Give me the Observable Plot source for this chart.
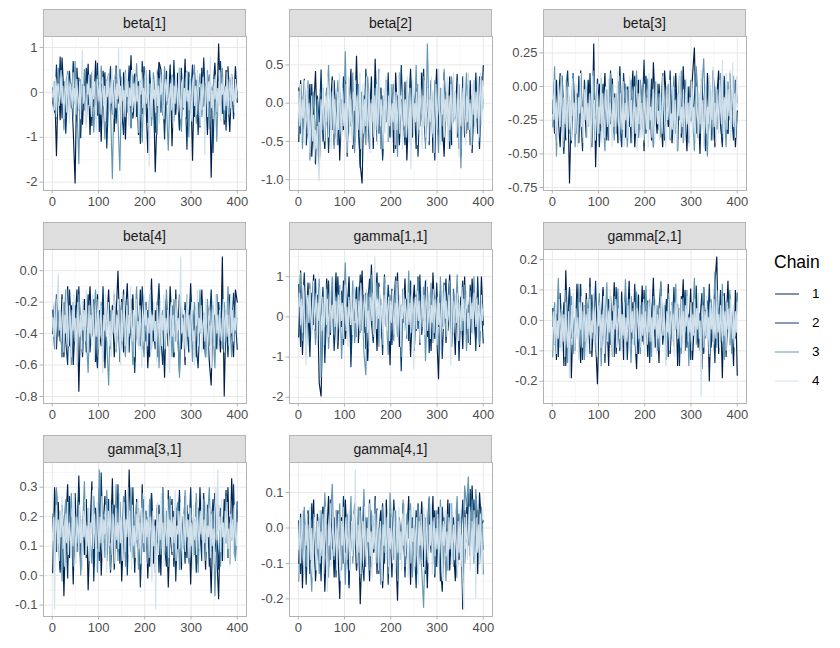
<!DOCTYPE html>
<html>
<head>
<meta charset="utf-8">
<script src="https://cdn.jsdelivr.net/npm/d3@7"></script>
<script src="https://cdn.jsdelivr.net/npm/@observablehq/plot@0.6"></script>
<style>
  body { margin: 0; background: #fff; font-family: "Liberation Sans", Arial, sans-serif; }
  #chart { position: relative; width: 840px; height: 648px; overflow: hidden; }
  .panel { position: absolute; }
  .strip { position: absolute; box-sizing: border-box; background: #dedede; border: 1px solid #b5b5b5;
           font-family: "Liberation Sans", Arial, sans-serif; font-weight: 400;
           font-size: 14px; color: #1a1a1a; text-align: center; line-height: 26px; }
  .legend { position: absolute; left: 774px; top: 252px; color: #000; font-weight: 400; }
  .legend .title { font-size: 17.5px; margin-bottom: 6px; }
  .legend .row { display: flex; align-items: center; height: 29px; font-size: 13.5px; }
  .legend svg { margin-right: 12px; }
</style>
</head>
<body>
<div id="chart"></div>
<script>
// ---------- categories ----------
const parameterNames = ["beta[1]", "beta[2]", "beta[3]", "beta[4]", "gamma[1,1]", "gamma[2,1]", "gamma[3,1]", "gamma[4,1]"];
const chainNames = ["1", "2", "3", "4"];
const chainColors = ["#011f4b", "#03396c", "#6497b1", "#d1e1ec"];

// ---------- tick labels ----------
const xTicks = [0, 100, 200, 300, 400];
const xMinorTicks = [50, 150, 250, 350];
const beta1Ticks = [-2, -1, 0, 1];
const beta2Ticks = [-1.0, -0.5, 0.0, 0.5];
const beta3Ticks = [-0.75, -0.50, -0.25, 0.00, 0.25];
const beta4Ticks = [-0.8, -0.6, -0.4, -0.2, 0.0];
const gamma11Ticks = [-2, -1, 0, 1];
const gamma21Ticks = [-0.2, -0.1, 0.0, 0.1, 0.2];
const gamma31Ticks = [-0.1, 0.0, 0.1, 0.2, 0.3];
const gamma41Ticks = [-0.2, -0.1, 0.0, 0.1];

// ---------- series values (thinned draws) ----------
const beta1_c1 = [-0.25,0.21,-1.42,0.35,-0.62,0.78,-0.10,-0.55,0.42,-0.31,0.12,-0.84,-2.03,0.55,-0.40,0.05,-0.72,0.38,-0.18,0.64,-0.95,0.10,-0.33,0.71,-0.52,0.22,-1.10,0.48,-0.08,-0.66,0.30,-0.41,0.15,-0.88,0.60,-0.25,0.02,-0.70,0.45,-1.05,0.18,-0.36,0.83,-0.58,-0.12,0.40,-0.95,0.26,-0.48,0.58,-0.20,-1.35,0.33,-0.62,0.11,-1.78,-0.44,0.68,0.52,-0.15,-0.70,0.36,-0.28,0.62,-1.20,0.08,-0.50,0.44,-0.85,0.21,-0.38,0.75,-0.60,-0.05,0.30,-1.52,0.48,-0.25,0.12,-0.78,0.55,-0.32,0.20,-0.95,0.40,-1.90,0.05,0.66,-0.47,1.09,-0.30,0.18,-0.72,0.50,-0.15,-0.88,0.32,-0.40,0.58,-0.22];
const beta1_c2 = [0.10,-0.45,0.62,-0.20,0.80,-0.58,0.25,-0.92,0.05,0.48,-0.35,0.70,-0.15,-0.65,0.33,-1.02,0.18,-0.40,0.55,-0.28,0.40,-0.75,0.12,-0.30,0.66,-0.88,0.20,-0.12,0.45,-1.25,-0.05,0.58,-0.50,0.28,-0.70,0.15,0.52,-0.38,-0.95,0.36,-0.22,0.60,-0.80,0.08,0.42,-0.55,0.25,-1.15,0.70,-0.10,0.34,-0.68,0.50,-0.30,0.02,-0.90,0.38,0.60,-0.45,0.15,-1.05,0.48,-0.18,0.30,-0.62,0.72,-0.35,0.10,-0.82,0.55,-0.25,0.20,-1.28,0.46,-0.08,0.62,-0.55,0.28,-0.95,0.12,-0.40,0.78,-0.20,-0.65,0.35,0.05,-1.35,0.50,-0.30,0.22,0.70,-0.48,0.15,-0.85,0.58,-0.12,0.40,-0.60,0.28,-0.05];
const beta1_c3 = [-0.30,0.25,-0.60,0.55,-0.15,0.35,-0.85,0.10,0.48,-0.40,0.20,-0.55,0.70,-0.25,-1.60,0.30,-0.10,0.52,-0.70,0.15,-0.35,0.45,-0.90,0.05,0.38,-0.48,0.60,-0.20,-1.05,0.25,0.42,-0.30,-1.93,0.18,0.55,-0.62,-1.75,0.35,-0.15,0.50,-0.45,0.12,-0.80,0.40,-0.22,0.65,-0.58,0.08,-1.12,0.30,0.50,-0.35,0.20,-0.75,0.45,-0.05,-0.95,0.32,0.15,-0.52,0.58,-0.28,-1.30,0.10,0.40,-0.65,0.25,-0.40,0.55,-0.88,0.18,-0.15,0.48,-1.00,0.30,-0.35,0.62,-0.70,0.05,0.42,-0.55,0.20,-0.25,0.50,-0.82,0.12,-0.40,0.36,-1.10,0.25,-0.18,0.55,-0.62,0.08,0.30,-0.45,0.40,-0.28,0.15,-0.10];
const beta1_c4 = [-0.10,0.25,-0.40,0.35,-0.55,0.10,0.20,-0.30,-0.05,0.50,-0.25,0.15,-0.60,0.05,0.30,-0.45,0.40,-0.15,-0.70,0.20,0.00,-0.35,0.45,-0.20,0.10,-0.50,0.30,-0.10,-0.40,0.25,-0.60,0.35,0.95,-0.25,0.15,-0.45,-0.80,0.20,-0.05,0.40,-0.30,0.10,-0.55,0.50,-0.15,0.25,-0.35,-0.85,0.30,0.05,-0.20,0.45,-0.50,0.00,0.35,-0.30,0.15,-0.65,0.25,-0.10,0.40,-0.45,0.10,-0.25,0.55,-0.60,-0.05,0.30,-0.35,0.20,-0.15,1.00,-0.40,0.15,-0.70,0.35,-0.20,0.05,-0.55,0.45,-0.10,0.25,-0.75,0.10,-0.30,0.50,-0.45,0.20,0.00,-0.60,0.35,-0.20,0.15,-0.90,0.30,-0.05,0.45,-0.35,0.10,-0.50,0.55,-0.25,-0.10,0.40,-1.65,-0.40,0.20,-0.55,0.30,-0.15,0.05,-0.45,0.50,-0.30,0.15,-0.70,0.25,-0.05,0.40,-0.35,-0.60,0.10,0.30,-0.20,0.45,-0.50,-0.10,0.20,-0.40,0.35,-0.80,0.15,-0.25,0.40,0.00,-0.45,0.55,-0.15,-0.60,0.20,0.30,-0.35,0.10,-0.55,0.45,-0.20,0.05,-0.40,0.35,-0.10,-0.65,0.25,0.40,-0.30,0.15,-0.50,0.50,0.00,-0.25,-0.75,0.20,-0.40,0.35,-0.10,-1.40,0.10,0.45,-0.55,0.25,-0.20,0.80,-0.35,0.05,-0.60,0.30,-0.15,0.40,-0.45,0.10,-0.25,0.50,-0.65,0.20,-0.05,0.35,-0.40,0.15,-0.30,0.45,-0.50,0.05,0.25,-0.35,0.40,-0.20,0.10,-0.45,0.30,-0.15,0.20];

const beta2_c1 = [-0.50,0.30,-0.35,0.05,-0.55,-0.20,0.25,-0.70,-0.10,0.42,-0.45,-0.85,0.10,-0.30,-0.60,0.15,-0.40,-0.05,0.35,-0.55,-0.15,0.20,-0.75,0.00,-0.35,0.30,-0.50,-0.10,0.45,-0.60,-0.25,0.62,-0.30,-0.80,-1.05,0.10,-0.45,0.05,-0.20,0.35,-0.60,0.58,-0.15,-0.40,0.20,-0.70,-0.05,0.30,-0.50,-0.25,0.15,-0.65,0.40,-0.20,-0.55,0.05,-0.35,0.28,-0.75,-0.10,0.45,-0.40,0.00,-0.60,0.25,-0.30,0.40,-0.15,-0.50,0.20,-0.35,0.30,-0.65,-0.05,0.45,-0.45,0.10,-0.25,-0.70,0.15,-0.30,0.35,-0.55,0.05,-0.20,0.38,-0.60,-0.10,0.25,-0.45,0.10,-0.35,0.30,-0.65,-0.05,0.20,-0.40,0.35,-0.15,0.49];
const beta2_c2 = [0.20,-0.40,-0.10,0.32,-0.55,0.00,-0.30,0.25,-0.45,-0.80,0.10,-0.25,0.44,-0.50,-0.15,0.20,-0.65,0.05,-0.35,0.30,-0.20,-0.55,0.15,-0.40,0.35,-0.10,-0.70,0.20,-0.30,0.05,-0.50,0.25,-0.20,-0.85,0.15,-0.40,0.45,-0.15,-0.60,0.10,-0.30,0.30,-0.50,-0.05,0.20,-0.75,0.05,-0.25,0.40,-0.45,-0.10,0.25,-0.60,0.10,-0.35,0.50,-0.20,-0.55,0.15,-0.30,0.35,-0.45,-0.05,0.20,-0.70,0.10,-0.25,0.45,-0.40,0.00,-0.55,0.25,-0.15,-0.75,0.30,-0.35,0.10,-0.50,0.40,-0.20,-0.05,-0.60,0.30,-0.25,0.15,-0.45,0.05,-0.70,0.35,-0.15,-0.40,0.25,-0.55,0.10,-0.30,0.40,-0.20,-0.60,0.15,0.00];
const beta2_c3 = [-0.30,0.25,-0.60,0.10,-0.20,0.30,-0.75,-0.35,0.15,-0.50,0.05,-0.80,-0.25,0.20,-0.45,0.00,0.50,-0.35,0.15,-0.60,-0.10,0.30,-0.40,0.05,-0.25,0.68,-0.50,0.10,-0.30,0.40,-0.65,-0.05,0.25,-0.45,0.15,-0.20,-0.55,0.35,-0.10,0.05,-0.40,0.20,-0.30,0.45,-0.60,0.10,-0.15,0.30,-0.50,-0.05,0.25,-0.35,0.05,-0.70,0.40,-0.20,0.15,-0.45,0.30,-0.10,-0.55,0.20,-0.25,0.50,-0.40,0.05,-0.15,0.35,-0.60,0.78,-0.20,0.10,-0.45,0.30,-0.05,-0.65,0.20,-0.30,0.45,-0.15,0.05,-0.50,0.35,-0.25,0.10,-0.40,0.25,-0.85,0.15,-0.20,0.40,-0.35,0.05,-0.55,0.30,-0.10,0.20,-0.45,0.35,-0.05];
const beta2_c4 = [0.15,-0.30,0.25,-0.45,0.05,-0.20,0.30,-0.55,-0.10,0.20,-0.40,0.00,-0.65,-0.25,0.10,-0.50,-0.15,-0.75,-0.35,-0.60,-0.30,-0.80,-1.02,-0.45,0.05,-0.35,0.25,-0.20,-0.50,0.10,-0.25,0.35,-0.45,-0.05,0.20,-0.60,-0.15,0.30,-0.40,0.05,-0.20,-0.55,0.15,-0.35,0.40,-0.10,-0.50,0.20,-0.30,0.00,-0.45,0.25,-0.65,-0.15,0.35,-0.40,0.05,-0.25,-0.55,0.15,-0.10,0.30,-0.45,0.10,-0.35,-0.05,0.40,-0.60,-0.20,0.25,-0.40,0.05,-0.30,0.35,-0.50,-0.15,0.20,-0.65,0.00,-0.25,0.30,-0.45,0.10,-0.35,0.25,-0.55,-0.10,0.40,-0.30,0.05,-0.20,-0.60,0.20,-0.40,0.35,-0.15,-0.50,0.10,-0.30,0.25,-0.45,0.00,-0.25,0.30,-0.55,0.15,-0.35,-0.05,0.40,-0.40,0.10,-0.20,-0.60,0.25,-0.30,0.05,-0.45,0.35,-0.15,-0.50,0.20,-0.87,-0.10,0.30,-0.40,0.00,-0.25,0.15,-0.55,0.25,-0.35,0.40,-0.20,-0.60,0.10,-0.30,0.30,-0.45,-0.05,0.20,-0.50,0.05,-0.25,0.35,-0.40,0.15,-0.65,-0.10,0.25,-0.35,0.00,0.45,-0.30,-0.55,0.20,-0.15,0.30,-0.45,0.05,-0.25,0.35,-0.60,0.10,-0.35,0.25,-0.05,-0.50,0.40,-0.20,0.15,-0.45,-0.10,0.30,-0.70,0.05,-0.30,0.20,-0.40,0.35,-0.15,-0.55,0.10,-0.25,0.40,-0.35,0.00,-0.60,0.25,-0.15,0.30,-0.40,0.15,-0.20,0.35,-0.50,0.05,0.40,-0.30,0.30,-0.05];

const beta3_c1 = [-0.10,-0.35,0.05,-0.25,-0.45,0.08,-0.20,-0.40,0.00,-0.72,-0.15,0.10,-0.30,-0.05,-0.42,0.12,-0.25,-0.10,-0.38,0.05,-0.20,-0.45,0.32,-0.60,-0.12,0.02,-0.33,-0.18,0.10,-0.40,-0.08,-0.28,0.06,-0.35,-0.15,-0.42,0.15,-0.22,-0.05,-0.38,0.00,-0.30,-0.12,0.12,-0.45,-0.20,0.05,-0.32,-0.10,-0.48,0.08,-0.25,-0.02,-0.40,0.18,-0.15,-0.35,0.02,-0.22,-0.45,0.12,-0.10,-0.30,0.05,-0.42,-0.18,0.10,-0.28,-0.05,-0.38,0.15,-0.20,-0.48,0.00,-0.25,0.08,0.29,-0.35,-0.12,-0.50,0.05,-0.22,-0.40,0.10,-0.15,-0.30,0.02,-0.45,-0.08,0.12,-0.28,-0.42,0.05,-0.18,-0.35,0.10,-0.25,-0.05,-0.45,-0.18];
const beta3_c2 = [-0.20,0.05,-0.40,-0.10,0.10,-0.30,-0.50,-0.05,0.12,-0.25,-0.42,0.00,-0.15,-0.35,0.08,-0.22,-0.48,0.05,-0.12,-0.30,0.10,-0.38,-0.05,-0.25,0.06,-0.45,-0.15,0.02,-0.32,-0.08,-0.40,0.12,-0.20,-0.05,-0.35,0.04,-0.28,-0.45,0.10,-0.15,-0.30,0.00,-0.42,-0.10,0.08,-0.25,-0.38,0.05,-0.18,0.20,-0.35,-0.08,-0.28,0.06,-0.45,-0.12,0.02,-0.32,-0.20,0.10,-0.40,-0.05,-0.25,0.12,-0.38,-0.15,-0.02,-0.48,0.08,-0.22,-0.35,0.05,-0.12,-0.42,0.00,-0.28,-0.08,0.10,-0.38,-0.18,0.06,-0.30,-0.48,0.02,-0.20,-0.40,0.12,-0.10,-0.32,0.04,-0.25,-0.45,0.08,-0.15,-0.35,0.00,-0.22,-0.40,0.05,-0.12];
const beta3_c3 = [-0.30,0.15,-0.52,-0.05,-0.25,0.08,-0.40,-0.12,0.02,-0.35,-0.18,0.10,-0.45,-0.08,-0.28,0.05,-0.38,-0.15,0.00,-0.30,-0.10,-0.42,0.12,-0.22,-0.05,-0.35,0.06,-0.20,-0.48,-0.02,-0.28,0.10,-0.15,-0.40,-0.05,-0.25,0.08,-0.35,-0.12,0.02,-0.45,-0.18,0.05,-0.30,-0.08,0.12,-0.38,-0.20,-0.02,-0.42,-0.10,0.06,-0.32,-0.15,-0.45,0.04,-0.22,-0.05,-0.38,0.10,-0.28,-0.12,0.02,-0.40,-0.20,0.08,-0.35,-0.05,-0.25,0.12,-0.42,-0.15,0.00,-0.30,0.05,-0.20,-0.48,0.15,-0.10,-0.35,-0.02,0.21,-0.28,-0.52,0.06,-0.18,-0.40,0.00,-0.22,-0.08,0.10,-0.35,-0.15,-0.45,0.04,-0.25,-0.10,0.08,-0.38,-0.20];
const beta3_c4 = [-0.05,-0.25,0.05,-0.35,-0.12,-0.42,0.02,-0.20,-0.30,0.08,-0.18,-0.45,-0.08,-0.28,0.05,-0.38,-0.15,0.00,-0.32,-0.10,-0.40,0.06,-0.22,-0.12,-0.35,0.02,-0.28,-0.45,-0.08,-0.20,0.10,-0.30,-0.15,-0.42,-0.02,-0.25,0.04,-0.38,-0.12,-0.30,-0.05,-0.48,-0.18,0.08,-0.32,-0.10,-0.40,-0.22,0.02,-0.35,-0.15,-0.28,0.10,-0.42,-0.05,-0.25,-0.38,0.00,-0.18,-0.30,0.06,-0.40,-0.12,-0.22,-0.45,0.02,-0.30,-0.08,-0.35,-0.15,0.12,-0.28,-0.40,-0.05,-0.20,-0.32,0.04,-0.45,-0.12,-0.25,-0.02,-0.38,-0.18,0.08,-0.30,-0.10,-0.42,-0.22,0.00,-0.35,-0.15,-0.48,-0.05,-0.28,0.06,-0.38,-0.12,-0.25,-0.40,0.02,-0.20,-0.32,-0.08,-0.45,0.10,-0.25,-0.15,-0.38,-0.02,-0.30,-0.42,-0.10,0.04,-0.28,-0.18,-0.40,-0.05,-0.22,-0.35,0.08,-0.12,-0.30,-0.45,-0.02,-0.25,-0.15,0.05,-0.38,-0.20,-0.32,0.00,-0.42,-0.10,-0.28,-0.48,-0.05,-0.22,0.10,-0.35,-0.15,-0.30,-0.02,-0.40,-0.18,0.06,-0.28,-0.12,-0.45,-0.08,-0.25,0.04,-0.35,-0.15,-0.30,-0.42,0.00,-0.20,-0.38,-0.05,-0.28,0.12,-0.32,-0.10,-0.45,-0.22,0.02,-0.35,-0.15,-0.28,0.08,-0.40,-0.05,-0.25,0.15,-0.30,-0.12,-0.42,-0.02,-0.22,-0.35,0.05,-0.18,-0.28,0.20,-0.38,-0.08,-0.25,0.10,-0.32,-0.02,-0.22,0.12,-0.40,-0.15,0.18,-0.30,-0.05,-0.38,0.08,-0.15];

const beta4_c1 = [-0.40,-0.20,-0.50,-0.25,-0.45,-0.15,-0.55,-0.30,-0.10,-0.48,-0.22,-0.60,-0.35,-0.12,-0.77,-0.28,-0.45,-0.18,-0.52,-0.30,-0.10,-0.42,-0.25,-0.58,-0.15,-0.38,-0.48,-0.20,-0.62,-0.32,-0.12,-0.45,-0.22,-0.55,-0.30,0.00,-0.40,-0.18,-0.52,-0.28,-0.08,-0.45,-0.35,-0.15,-0.58,-0.25,-0.42,-0.12,-0.50,-0.30,-0.20,-0.62,-0.35,-0.05,-0.45,-0.25,-0.55,-0.15,-0.40,-0.30,-0.68,-0.20,-0.48,-0.10,-0.35,-0.55,-0.25,-0.42,-0.15,-0.50,-0.28,-0.60,-0.18,-0.38,-0.08,-0.45,-0.30,-0.55,-0.20,-0.40,-0.12,-0.50,-0.25,-0.35,-0.58,-0.73,-0.22,-0.45,-0.15,-0.38,-0.52,0.09,-0.80,-0.25,-0.48,-0.15,-0.40,-0.55,-0.12,-0.20];
const beta4_c2 = [-0.25,-0.48,-0.15,-0.40,-0.30,-0.55,-0.20,-0.45,-0.60,-0.12,-0.35,-0.50,-0.22,-0.42,-0.10,-0.38,-0.55,-0.28,-0.45,-0.15,-0.52,-0.32,-0.18,-0.48,-0.62,-0.25,-0.40,-0.10,-0.55,-0.35,-0.22,-0.50,-0.30,-0.15,-0.45,-0.25,-0.58,-0.38,-0.12,-0.42,-0.28,-0.52,-0.18,-0.40,-0.65,-0.22,-0.35,-0.48,-0.10,-0.32,-0.45,-0.25,-0.55,-0.15,-0.38,-0.50,-0.28,-0.08,-0.42,-0.60,-0.30,-0.18,-0.48,-0.35,-0.22,-0.55,-0.12,-0.40,-0.65,-0.28,-0.45,-0.20,-0.35,-0.52,-0.15,-0.38,-0.25,-0.48,-0.62,-0.30,-0.18,-0.42,-0.55,-0.22,-0.35,-0.12,-0.45,-0.28,-0.50,-0.20,-0.38,-0.15,-0.48,-0.30,-0.55,-0.22,-0.40,-0.14,-0.32,-0.50];
const beta4_c3 = [-0.30,-0.50,-0.18,-0.42,-0.25,-0.55,-0.35,-0.12,-0.45,-0.28,-0.60,-0.20,-0.38,-0.48,-0.15,-0.35,-0.52,-0.25,-0.42,-0.65,-0.22,-0.40,-0.30,-0.12,-0.50,-0.35,-0.20,-0.58,-0.28,-0.45,-0.73,-0.25,-0.40,-0.15,-0.52,-0.30,-0.45,-0.20,-0.38,-0.55,-0.18,-0.42,-0.28,-0.60,-0.35,-0.10,-0.48,-0.25,-0.40,-0.55,-0.22,-0.38,-0.15,-0.50,-0.30,-0.45,-0.20,-0.62,-0.35,-0.25,-0.48,-0.12,-0.40,-0.28,-0.55,-0.18,-0.45,-0.32,-0.68,-0.22,-0.38,-0.50,-0.15,-0.42,-0.28,-0.58,-0.20,-0.35,-0.45,-0.12,-0.40,-0.30,-0.55,-0.18,-0.48,-0.25,-0.38,-0.62,-0.15,-0.42,-0.30,-0.50,-0.20,-0.45,-0.10,-0.35,-0.55,-0.25,-0.40,-0.30];
const beta4_c4 = [-0.30,-0.42,-0.20,-0.50,-0.28,-0.15,-0.02,-0.38,-0.25,-0.45,-0.32,-0.18,-0.52,-0.28,-0.40,-0.12,-0.35,-0.48,-0.22,-0.30,-0.55,-0.25,-0.38,-0.15,-0.45,-0.30,-0.60,-0.20,-0.35,-0.42,-0.28,-0.50,-0.18,-0.38,-0.25,-0.45,-0.12,-0.32,-0.52,-0.22,-0.40,-0.28,-0.48,-0.15,-0.35,-0.58,-0.25,-0.42,-0.30,-0.18,-0.50,-0.35,-0.22,-0.45,-0.65,-0.28,-0.38,-0.15,-0.42,-0.30,-0.20,-0.48,-0.32,-0.55,-0.25,-0.40,-0.12,-0.35,-0.50,-0.28,-0.42,-0.18,-0.38,-0.60,-0.25,-0.45,-0.30,-0.15,-0.48,-0.35,-0.22,-0.52,-0.28,-0.40,-0.10,-0.35,-0.45,-0.25,-0.55,-0.30,-0.18,-0.42,-0.32,-0.50,-0.22,-0.38,-0.62,-0.28,-0.45,-0.15,-0.35,-0.25,-0.48,-0.30,-0.40,-0.12,-0.52,-0.28,-0.38,-0.20,-0.45,-0.32,-0.58,-0.22,-0.35,-0.42,-0.18,-0.48,-0.28,-0.38,-0.15,-0.50,-0.30,-0.40,-0.25,-0.45,-0.65,-0.32,-0.20,-0.42,-0.28,-0.52,-0.35,-0.18,-0.45,-0.30,-0.38,-0.22,0.09,-0.40,-0.30,-0.48,-0.25,-0.55,-0.35,-0.15,-0.42,-0.28,-0.50,-0.32,-0.20,-0.45,-0.38,-0.60,-0.25,-0.35,-0.12,-0.48,-0.30,-0.40,-0.22,-0.52,-0.35,-0.28,-0.45,-0.18,-0.38,-0.55,-0.30,-0.25,-0.42,-0.62,-0.32,-0.20,-0.48,-0.35,-0.15,-0.40,-0.28,-0.50,-0.25,-0.38,-0.45,-0.30,-0.18,-0.52,-0.35,-0.22,-0.42,-0.28,-0.48,-0.32,-0.15,-0.40,-0.25,-0.45,-0.30,-0.38,-0.22,-0.35];

const gamma11_c1 = [-0.50,1.15,-0.95,0.40,-0.20,0.85,-0.60,0.20,1.05,-0.35,0.55,-1.65,-1.98,0.30,-0.70,0.95,0.05,-0.45,0.70,-0.15,1.10,-0.80,0.35,-0.25,0.90,-0.55,0.15,1.00,-0.90,0.45,-0.10,0.75,-0.65,0.25,1.15,-0.40,0.60,-1.10,0.10,1.30,-0.30,0.50,-0.85,0.85,0.00,-0.60,1.05,-0.20,0.40,-1.20,0.70,-0.45,0.20,1.10,-0.75,0.30,-0.15,0.95,-0.55,0.55,-1.00,0.15,0.80,-0.35,1.00,-0.70,0.40,-0.10,0.90,-0.50,0.25,-0.85,1.10,0.05,-0.40,-1.55,0.65,-0.25,0.85,-0.65,0.35,1.05,-0.30,0.10,-0.95,0.75,-0.15,0.50,-0.80,1.00,-0.45,0.30,-0.70,0.95,0.05,-0.55,0.60,-0.75,1.00,-0.20];
const gamma11_c2 = [0.80,-0.75,0.30,1.10,-0.40,0.10,-1.00,0.60,-0.20,0.95,-0.55,0.35,-0.10,0.75,-1.15,0.20,0.90,-0.45,0.50,-0.85,0.05,1.00,-0.30,0.65,-0.70,0.40,-0.05,0.85,-1.25,0.25,0.70,-0.50,0.15,1.05,-0.35,0.55,-0.80,0.30,0.95,-0.15,-0.65,0.45,1.10,-0.40,0.20,-0.95,0.60,-0.25,0.80,0.00,-0.70,0.35,1.00,-0.50,0.15,-1.35,0.70,-0.20,0.45,-0.60,0.90,0.10,-0.85,0.55,-0.30,1.05,-0.45,0.25,-0.10,0.75,-0.90,0.40,0.05,-0.55,0.85,-0.25,0.60,-1.05,0.30,0.95,-0.35,0.15,-0.75,0.70,-0.05,0.50,-1.10,0.35,0.90,-0.40,0.20,-0.65,0.80,-0.15,0.45,-0.85,1.00,-0.30,0.25,-0.65];
const gamma11_c3 = [0.30,1.10,-0.60,0.55,-0.95,0.20,0.85,-0.35,0.45,-0.70,0.10,0.95,-1.50,0.35,-0.25,0.70,-0.80,0.15,1.00,-0.45,0.50,-0.15,0.80,-1.05,0.25,1.35,-0.55,0.40,-0.20,0.90,-0.65,0.05,0.75,-0.40,0.30,-0.90,-1.45,0.60,-0.10,1.05,-0.50,0.20,0.85,-0.75,0.45,-0.30,1.00,-0.05,-0.95,0.55,0.15,-0.60,0.90,-0.20,0.40,-1.00,0.70,0.00,-0.45,1.15,-0.30,0.50,-0.80,0.25,0.95,-0.55,0.10,0.75,-1.10,0.35,-0.15,0.85,-0.65,0.45,0.05,-0.90,1.00,-0.25,0.60,-0.50,0.20,0.90,-0.75,0.40,-0.10,1.05,-0.60,0.30,-0.35,0.80,-0.85,0.15,0.65,-0.40,1.00,-0.20,0.50,-0.70,0.35,0.10];
const gamma11_c4 = [0.25,0.60,-0.20,0.45,-0.40,0.80,0.10,-0.55,-1.20,0.35,0.55,-0.15,0.70,0.00,-0.45,0.40,0.90,-0.30,0.20,0.60,-0.60,0.35,-0.10,0.75,0.05,-0.35,0.50,-0.70,0.25,0.85,-0.20,0.45,-0.50,0.15,0.65,-0.40,0.30,-0.05,0.95,-0.25,0.40,-0.65,0.20,0.55,-0.30,0.70,-0.10,0.35,-0.55,0.10,0.80,-0.35,0.25,-0.75,0.50,0.05,-0.20,0.60,-0.45,0.30,0.75,-0.15,0.45,-0.60,0.10,0.40,-0.35,0.85,0.00,-0.50,0.25,0.55,-0.25,0.70,-0.40,0.15,-0.80,0.50,0.35,-0.10,0.60,-0.45,1.50,0.20,-0.30,0.45,-0.05,0.75,-0.55,0.30,0.10,-0.70,0.55,-0.20,0.85,-0.35,0.25,0.50,-0.60,0.40,-0.15,0.65,0.05,-0.45,0.35,-0.25,0.90,-0.50,0.20,0.55,-0.75,0.30,-0.05,0.70,-0.35,0.45,0.10,-0.55,0.60,-0.20,0.35,-0.40,0.80,0.00,-1.30,0.25,0.50,-0.30,0.65,-0.10,0.40,-0.65,0.15,0.75,-0.25,0.55,-0.45,0.20,0.95,-0.35,0.05,0.60,-0.55,0.30,-0.15,0.70,-0.40,0.45,0.10,-0.70,0.50,-0.20,0.35,-0.85,0.25,0.65,-0.30,0.80,-0.05,0.40,-0.50,0.15,0.55,-0.25,-1.20,0.30,0.70,-0.40,0.20,0.50,-0.15,0.60,-0.60,0.35,0.05,-0.35,0.75,-0.10,0.45,-0.55,0.25,0.65,-0.30,0.10,-0.65,0.50,-0.05,0.35,-0.45,0.60,0.15,-0.25,0.45,-0.50,0.30,0.05,-0.35,0.55,-0.10,0.20];

const gamma21_c1 = [-0.020,0.050,-0.130,0.080,-0.060,0.030,-0.150,0.165,-0.040,0.100,-0.190,0.020,-0.080,0.120,-0.030,-0.140,0.060,-0.100,0.090,-0.050,0.140,-0.120,0.010,-0.070,-0.210,0.050,-0.020,0.110,-0.090,0.030,-0.150,0.080,-0.040,0.125,-0.110,0.000,-0.060,0.095,-0.130,0.040,-0.020,0.130,-0.100,0.060,-0.050,-0.160,0.085,-0.030,0.115,-0.080,0.020,-0.120,0.070,-0.010,0.140,-0.090,0.030,-0.140,0.100,-0.060,0.050,-0.030,0.120,-0.110,0.010,-0.070,0.090,-0.150,0.040,-0.020,0.135,-0.100,0.060,-0.050,0.105,-0.130,0.000,0.080,-0.090,0.025,-0.160,0.110,-0.040,0.065,-0.200,0.030,-0.070,0.120,0.210,-0.110,0.045,-0.190,0.090,-0.020,0.130,-0.080,0.010,-0.150,0.100,-0.180];
const gamma21_c2 = [0.040,-0.080,0.020,-0.120,0.090,-0.040,0.060,-0.150,0.000,0.110,-0.060,0.030,-0.100,0.075,-0.030,0.120,-0.130,0.050,-0.070,0.015,-0.110,0.085,-0.020,0.130,-0.090,0.040,-0.050,0.100,-0.140,0.010,0.070,-0.080,0.030,-0.120,0.110,-0.010,-0.100,0.060,-0.040,0.090,-0.130,0.020,0.080,-0.060,0.120,-0.025,-0.110,0.050,-0.070,0.100,-0.030,0.065,-0.140,0.015,0.095,-0.050,-0.100,0.040,0.125,-0.080,-0.010,0.070,-0.120,0.030,-0.060,0.110,-0.030,0.055,-0.150,0.080,-0.020,0.100,-0.090,0.020,-0.130,0.060,-0.040,0.115,-0.070,0.000,0.090,-0.110,0.035,-0.050,0.120,-0.090,0.010,-0.140,0.075,-0.030,0.100,-0.070,0.050,-0.120,0.020,0.085,-0.100,0.040,-0.060,0.090];
const gamma21_c3 = [-0.120,0.060,-0.030,0.140,-0.090,0.020,-0.060,0.100,-0.140,0.040,0.080,-0.110,0.010,-0.050,0.120,-0.080,0.030,-0.130,0.070,-0.020,0.110,-0.060,0.045,-0.100,0.000,0.090,-0.150,0.030,-0.040,0.125,-0.070,0.050,-0.120,0.080,-0.010,0.105,-0.090,0.020,-0.060,0.135,-0.030,0.070,-0.140,0.040,-0.080,0.095,0.000,-0.110,0.060,-0.040,0.115,-0.070,0.025,-0.120,0.080,-0.020,0.050,-0.100,0.130,-0.050,0.010,-0.130,0.090,-0.030,0.060,-0.085,0.120,-0.060,0.020,-0.110,0.075,-0.040,0.100,-0.150,0.030,-0.020,0.140,-0.080,0.050,-0.100,0.015,0.110,-0.060,0.035,-0.120,0.070,-0.030,0.160,-0.090,0.040,-0.070,0.120,-0.130,0.060,-0.020,0.100,-0.110,0.030,-0.050,0.090];
const gamma21_c4 = [-0.04,0.03,-0.08,0.05,-0.11,0.00,-0.06,0.07,-0.03,-0.10,0.04,-0.07,0.02,-0.12,0.06,-0.04,-0.09,0.03,-0.19,-0.05,0.05,-0.08,0.09,-0.02,-0.11,0.04,-0.06,0.01,-0.13,0.06,-0.03,0.08,-0.09,-0.01,0.05,-0.07,0.02,-0.12,0.04,-0.05,0.07,-0.10,0.00,-0.04,0.09,-0.08,0.03,-0.06,-0.12,0.05,-0.02,0.06,-0.09,0.02,-0.05,0.08,-0.11,-0.01,0.04,-0.07,0.03,-0.04,0.10,-0.08,0.00,-0.12,0.05,-0.03,0.07,-0.09,-0.01,0.04,-0.06,0.08,-0.10,0.02,-0.05,0.06,-0.13,0.01,-0.07,0.05,-0.02,-0.10,0.09,-0.04,0.03,-0.08,0.06,-0.03,-0.11,0.04,0.00,-0.06,0.08,-0.09,0.02,-0.05,0.07,-0.12,0.03,-0.02,-0.08,0.06,-0.04,0.10,-0.07,0.01,-0.10,0.05,-0.03,0.07,-0.11,0.02,-0.06,0.04,-0.09,0.08,-0.01,-0.05,0.06,-0.08,-0.15,0.03,-0.04,0.07,-0.10,0.00,0.05,-0.07,0.02,-0.12,0.06,-0.03,0.09,-0.06,-0.01,0.04,-0.09,0.07,-0.05,0.03,-0.11,0.05,-0.02,0.08,-0.07,0.01,-0.04,0.06,-0.10,0.02,-0.05,0.07,-0.08,0.04,-0.03,0.09,-0.06,0.00,-0.25,-0.02,0.05,-0.09,0.03,-0.05,0.08,-0.07,0.01,-0.11,0.06,-0.03,0.04,-0.08,0.07,-0.01,-0.06,0.10,-0.04,0.02,-0.09,0.05,-0.02,-0.07,0.08,-0.05,0.03,-0.10,0.06,-0.03,0.04,-0.08,0.07,-0.02,-0.06,0.05,-0.09,0.03,-0.04,0.06];

const gamma31_c1 = [0.010,0.300,0.080,0.250,0.020,0.220,-0.070,0.180,0.310,0.060,0.200,-0.030,0.280,0.100,0.340,0.040,0.190,0.070,0.260,-0.050,0.150,0.320,0.030,0.230,0.090,0.300,0.000,0.170,0.270,0.050,0.210,0.110,0.330,0.020,0.180,0.080,0.250,-0.020,0.140,0.290,0.060,0.360,0.100,0.200,0.010,0.260,0.130,0.050,0.310,0.080,0.220,-0.010,0.160,0.280,0.040,0.190,0.110,0.240,0.000,0.300,0.070,0.200,-0.040,0.170,0.260,0.030,0.230,0.090,0.290,0.020,0.150,0.270,0.060,0.210,-0.030,0.180,0.110,0.250,0.040,0.300,0.080,0.200,0.020,0.240,0.130,-0.060,0.190,0.280,0.070,-0.080,0.220,0.050,0.260,0.110,0.300,0.040,0.330,0.150,0.060,0.250];
const gamma31_c2 = [0.200,0.060,0.290,0.120,0.010,0.240,0.090,0.180,-0.010,0.270,0.130,0.040,0.210,0.080,0.300,0.020,0.160,0.250,0.060,0.190,0.100,0.280,-0.020,0.170,0.220,0.050,0.350,0.110,0.200,0.070,0.260,0.010,0.150,0.240,0.090,0.310,0.040,0.190,0.120,0.270,0.000,0.210,0.080,0.300,0.050,0.170,0.230,-0.040,0.140,0.260,0.090,0.200,0.030,0.280,0.120,0.060,0.230,0.010,0.180,0.250,0.100,0.030,0.290,0.140,0.070,0.220,-0.020,0.160,0.270,0.090,0.200,0.040,0.240,0.120,0.300,0.060,0.190,0.010,0.230,0.150,0.050,0.280,0.100,0.210,0.030,0.170,0.260,0.080,0.140,0.020,0.230,0.090,0.180,0.290,0.060,0.200,0.120,0.310,0.080,0.220];
const gamma31_c3 = [0.210,0.050,0.300,0.130,0.220,-0.020,0.180,0.260,0.080,0.150,0.280,0.030,0.200,0.110,0.250,0.000,0.170,0.320,0.070,0.230,0.120,0.040,0.270,0.160,0.010,0.360,0.100,0.210,0.060,0.290,0.140,0.020,0.240,0.090,0.310,0.050,0.190,0.130,0.270,0.030,0.220,0.100,0.300,0.060,0.180,0.250,0.020,0.150,0.280,0.080,0.210,0.040,0.260,0.120,0.190,0.010,0.240,0.140,0.070,0.300,0.110,0.220,0.030,0.270,0.150,0.060,0.200,0.250,0.020,0.180,0.090,0.290,0.130,0.040,0.230,0.160,0.070,0.280,0.010,0.200,0.120,0.260,0.050,0.190,0.300,0.080,0.220,-0.070,0.150,0.240,0.030,0.200,0.110,0.270,0.060,0.180,0.130,0.230,0.050,0.250];
const gamma31_c4 = [0.12,0.20,-0.115,0.16,0.24,0.08,0.19,0.05,0.22,0.13,0.27,0.09,0.17,0.03,0.21,0.11,0.25,0.07,0.18,0.14,0.06,0.23,0.10,0.28,0.12,0.04,0.20,0.15,0.08,0.24,0.11,0.19,0.02,0.22,0.13,0.26,0.07,0.17,0.10,0.23,0.05,0.18,0.14,0.29,0.09,0.21,0.12,0.03,0.25,0.16,0.08,0.20,0.11,0.27,0.06,0.19,0.14,0.24,0.01,0.17,0.22,0.10,0.26,0.13,0.07,0.21,0.15,0.04,0.23,0.12,0.18,0.09,0.28,0.11,0.20,0.05,0.16,0.25,0.08,0.19,0.13,0.30,0.07,0.22,0.14,0.02,0.24,0.10,0.17,0.06,0.21,0.12,0.26,0.09,0.18,0.04,0.23,0.15,0.11,0.27,0.08,0.19,0.13,0.24,0.06,0.20,0.16,-0.02,0.22,0.10,0.17,-0.115,0.14,0.25,0.07,0.21,0.12,0.28,0.09,0.18,0.03,0.23,0.15,0.10,0.26,0.06,0.19,0.13,0.24,0.08,0.20,0.11,0.29,0.05,0.17,0.14,0.22,0.09,0.25,0.12,0.04,0.21,0.16,0.08,0.27,0.13,0.19,0.06,0.23,0.10,0.18,0.02,0.24,0.12,0.20,0.07,0.26,0.15,0.09,0.22,0.14,0.28,0.05,0.19,0.11,0.25,0.08,0.17,0.13,0.23,0.06,0.21,0.10,0.16,0.04,0.24,0.30,0.12,0.36,0.15,0.20,0.08,0.26,0.13,0.18,0.05,0.22,0.11,0.25,0.09,0.16,0.03,0.21,0.12,0.19,0.07,0.24,0.14,0.10,0.18];

const gamma41_c1 = [-0.100,0.040,-0.170,0.020,-0.080,0.050,-0.130,-0.020,0.080,-0.150,-0.050,0.030,-0.110,0.060,-0.180,-0.030,0.090,-0.090,0.010,-0.140,0.050,-0.060,-0.200,0.030,-0.100,0.080,-0.040,-0.160,0.020,-0.080,0.060,-0.120,0.000,-0.215,-0.050,0.070,-0.110,0.010,-0.150,0.040,-0.070,0.090,-0.130,-0.010,0.050,-0.170,-0.040,0.080,-0.100,0.020,-0.140,0.060,-0.060,-0.205,0.030,-0.090,0.070,-0.120,-0.020,0.090,-0.160,0.010,-0.080,0.050,-0.130,-0.030,0.075,-0.110,0.000,-0.170,0.040,-0.060,0.090,-0.140,-0.010,0.060,-0.100,-0.180,0.030,-0.070,0.080,-0.120,0.010,-0.050,-0.150,0.060,-0.090,0.030,-0.230,0.050,-0.040,0.100,-0.080,0.120,-0.020,0.090,-0.130,0.100,0.010,0.020];
const gamma41_c2 = [0.020,-0.130,-0.040,0.050,-0.160,0.010,-0.090,0.070,-0.050,-0.120,0.040,-0.020,-0.150,0.060,-0.080,0.000,-0.110,0.080,-0.060,0.030,-0.140,0.050,-0.030,-0.100,0.090,-0.070,0.020,-0.170,0.040,-0.050,0.070,-0.120,-0.010,0.060,-0.090,-0.150,0.030,-0.040,0.080,-0.110,0.010,-0.070,0.055,-0.130,-0.020,0.070,-0.100,0.030,-0.160,0.040,-0.060,0.080,-0.030,-0.120,0.020,-0.080,0.060,-0.140,0.000,0.050,-0.100,0.030,-0.050,-0.170,0.070,-0.020,-0.090,0.040,-0.130,0.010,0.085,-0.070,-0.030,0.050,-0.110,0.020,-0.150,0.060,-0.040,0.000,-0.120,0.070,-0.080,0.030,-0.060,-0.140,0.040,-0.020,0.080,-0.100,0.060,-0.050,0.110,-0.030,0.080,-0.070,0.050,-0.100,0.030,-0.060];
const gamma41_c3 = [-0.150,0.030,-0.060,0.060,-0.110,0.010,-0.080,-0.180,0.040,-0.040,0.020,-0.130,0.050,-0.070,0.100,-0.020,-0.140,0.030,0.125,-0.090,0.000,-0.050,0.070,-0.120,0.020,-0.160,0.040,-0.030,0.090,-0.100,0.010,-0.060,0.060,-0.140,-0.010,0.110,-0.080,0.030,-0.120,0.050,-0.040,0.080,-0.100,0.000,-0.160,0.060,-0.070,0.030,-0.130,0.100,-0.020,-0.090,0.050,-0.150,0.020,-0.060,0.080,-0.110,0.040,-0.030,0.070,-0.140,0.010,-0.080,0.060,-0.050,-0.120,-0.225,0.030,-0.090,0.090,-0.040,0.020,-0.130,0.050,-0.070,0.080,-0.100,0.000,-0.150,0.040,-0.060,0.070,-0.110,0.010,0.090,-0.080,0.030,-0.140,0.120,0.060,0.145,-0.050,0.080,-0.100,0.110,0.020,-0.080,0.060,-0.130];
const gamma41_c4 = [-0.06,0.03,-0.10,-0.02,0.05,-0.08,-0.13,0.01,-0.05,0.04,-0.11,-0.03,0.06,-0.09,0.00,-0.14,-0.04,0.03,-0.07,-0.12,0.02,-0.06,0.05,-0.10,-0.01,-0.08,0.04,-0.13,-0.03,0.06,-0.09,-0.18,0.01,-0.05,0.07,-0.11,-0.02,0.03,-0.08,-0.04,0.05,-0.12,-0.01,0.04,-0.07,-0.15,0.02,-0.05,0.06,-0.10,-0.03,0.03,-0.09,-0.01,0.05,-0.12,-0.04,0.02,-0.08,0.04,-0.06,0.165,-0.02,-0.10,0.01,-0.07,0.05,-0.13,-0.03,0.02,-0.09,0.06,-0.05,-0.11,0.00,-0.04,0.07,-0.08,-0.01,-0.14,0.03,-0.06,0.04,-0.10,-0.02,0.05,-0.12,-0.04,0.02,-0.08,-0.15,0.01,-0.05,0.06,-0.09,-0.03,0.04,-0.11,0.00,-0.06,0.03,-0.10,-0.02,0.05,-0.13,-0.04,0.02,-0.07,0.06,-0.09,-0.01,-0.12,0.04,-0.05,0.07,-0.08,-0.03,0.01,-0.14,-0.06,0.05,-0.10,0.00,-0.04,0.06,-0.11,-0.02,0.03,-0.08,-0.16,0.02,-0.05,0.04,-0.09,-0.01,0.06,-0.12,-0.03,0.05,-0.07,-0.10,0.01,-0.05,0.07,-0.13,-0.02,0.03,-0.08,0.00,-0.06,0.04,-0.11,-0.03,0.06,-0.09,-0.15,0.02,-0.05,0.05,-0.08,-0.01,-0.12,0.03,-0.06,0.07,-0.10,-0.03,0.01,-0.09,0.04,-0.05,-0.14,0.02,-0.07,0.05,-0.11,-0.02,-0.16,-0.23,0.03,-0.06,0.04,-0.09,-0.01,0.06,-0.12,-0.04,0.02,-0.08,0.05,-0.03,-0.20,0.03,-0.07,0.01,-0.10,0.04,-0.05,-0.13,0.00];

// ---------- panel table built from the arrays ----------
const panelSeries = [
  [beta1_c1, beta1_c2, beta1_c3, beta1_c4],
  [beta2_c1, beta2_c2, beta2_c3, beta2_c4],
  [beta3_c1, beta3_c2, beta3_c3, beta3_c4],
  [beta4_c1, beta4_c2, beta4_c3, beta4_c4],
  [gamma11_c1, gamma11_c2, gamma11_c3, gamma11_c4],
  [gamma21_c1, gamma21_c2, gamma21_c3, gamma21_c4],
  [gamma31_c1, gamma31_c2, gamma31_c3, gamma31_c4],
  [gamma41_c1, gamma41_c2, gamma41_c3, gamma41_c4]
];
const panelTicks = [beta1Ticks, beta2Ticks, beta3Ticks, beta4Ticks, gamma11Ticks, gamma21Ticks, gamma31Ticks, gamma41Ticks];
const panelDigits = [0, 1, 2, 1, 0, 1, 1, 1];

// ---------- layout ----------
const colLeft = [43, 289, 543];
const stripTop = [9, 222, 435];
const stripH = 28;
const panelW = 203;
const panelH = 154;
const ML = 50, MR = 2, MT = 2, MB = 28;
const iterMin = 1, iterMax = 400;
const xPad = (iterMax - iterMin) * 0.05;

const chart = document.getElementById("chart");

parameterNames.forEach((name, p) => {
  const col = p % 3, row = Math.floor(p / 3);
  const rows = [];
  panelSeries[p].forEach((vals, c) => {
    const n = vals.length;
    vals.forEach((v, i) => rows.push({
      iter: iterMin + i * (iterMax - iterMin) / (n - 1),
      value: v,
      chain: chainNames[c]
    }));
  });
  const [lo, hi] = d3.extent(rows, d => d.value);
  const pad = (hi - lo) * 0.05;
  const yDomain = [lo - pad, hi + pad];
  const ticks = panelTicks[p];
  const step = ticks[1] - ticks[0];
  const yMinor = ticks.map(t => t - step / 2).concat([ticks[ticks.length - 1] + step / 2])
    .filter(t => t > yDomain[0] && t < yDomain[1]);
  const dig = panelDigits[p];

  const plot = Plot.plot({
    width: ML + panelW + MR,
    height: MT + panelH + MB,
    marginLeft: ML, marginRight: MR, marginTop: MT, marginBottom: MB,
    style: { fontFamily: "'Liberation Sans', Arial, sans-serif", fontSize: "13px", background: "transparent", overflow: "visible" },
    x: { domain: [iterMin - xPad, iterMax + xPad] },
    y: { domain: yDomain },
    color: { domain: chainNames, range: chainColors },
    marks: [
      Plot.gridX(xMinorTicks, { stroke: "#f2f2f2", strokeOpacity: 1, strokeWidth: 0.6 }),
      Plot.gridY(yMinor, { stroke: "#f2f2f2", strokeOpacity: 1, strokeWidth: 0.6 }),
      Plot.gridX(xTicks, { stroke: "#e8e8e8", strokeOpacity: 1, strokeWidth: 1 }),
      Plot.gridY(ticks, { stroke: "#e8e8e8", strokeOpacity: 1, strokeWidth: 1 }),
      Plot.line(rows, { x: "iter", y: "value", z: "chain", stroke: "chain", strokeWidth: 1.15, strokeLinejoin: "miter", strokeMiterlimit: 2 }),
      Plot.frame({ stroke: "#b3b3b3", strokeWidth: 1 }),
      Plot.axisX(xTicks, { tickSize: 3.5, tickPadding: 2.5, stroke: "#b3b3b3", fill: "#4d4d4d", label: null, tickFormat: d => String(d) }),
      Plot.axisY(ticks, { tickSize: 3.5, tickPadding: 2.5, stroke: "#b3b3b3", fill: "#4d4d4d", label: null, tickFormat: d => d.toFixed(dig) })
    ]
  });
  plot.classList.add("panel");
  plot.style.left = (colLeft[col] - ML) + "px";
  plot.style.top = (stripTop[row] + stripH - 1 - MT) + "px";
  chart.appendChild(plot);

  const strip = document.createElement("div");
  strip.className = "strip";
  strip.style.left = colLeft[col] + "px";
  strip.style.top = stripTop[row] + "px";
  strip.style.width = panelW + "px";
  strip.style.height = stripH + "px";
  strip.textContent = name;
  chart.appendChild(strip);
});

// ---------- legend ----------
const legend = document.createElement("div");
legend.className = "legend";
const title = document.createElement("div");
title.className = "title";
title.textContent = "Chain";
legend.appendChild(title);
chainNames.forEach((c, i) => {
  const row = document.createElement("div");
  row.className = "row";
  row.innerHTML = `<svg width="26" height="10"><line x1="1" x2="25" y1="5" y2="5" stroke="${chainColors[i]}" stroke-width="1.4" stroke-opacity="0.7"/></svg><span>${c}</span>`;
  legend.appendChild(row);
});
chart.appendChild(legend);
</script>
</body>
</html>
